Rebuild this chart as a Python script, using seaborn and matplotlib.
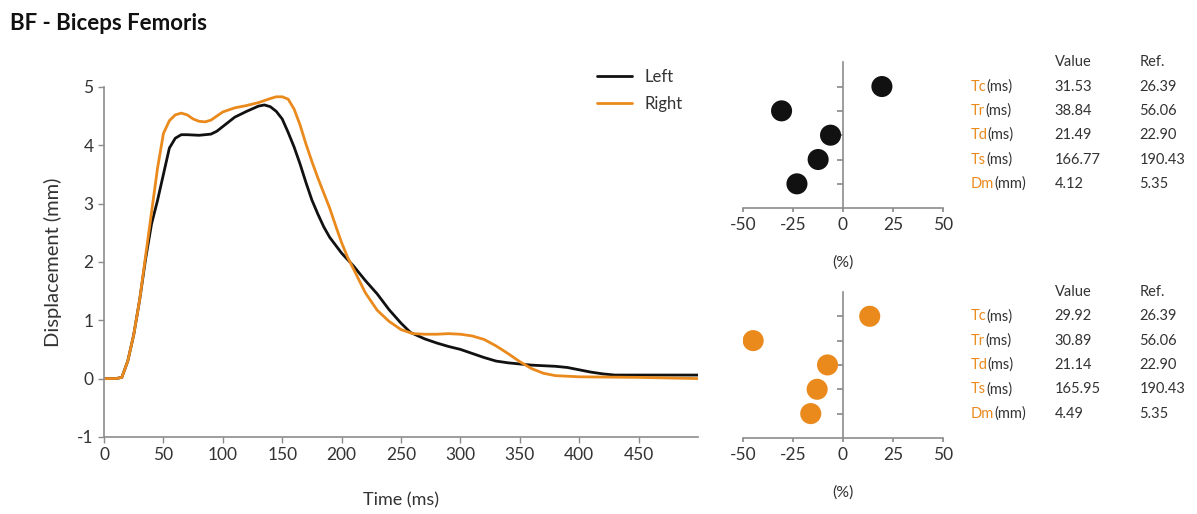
import pandas as pd
import matplotlib.pyplot as plt
import matplotlib.transforms as mtransforms
import seaborn as sns

# Curvas de desplazamiento
time_left = [0, 10, 15, 20, 25, 30, 35, 40, 45, 50, 55, 60, 65, 70, 80, 90, 95, 100, 110, 120, 130, 135,
             140, 145, 150, 155, 160, 165, 170, 175, 180, 185, 190, 200, 210, 220, 230, 240, 250, 258,
             270, 280, 290, 300, 310, 320, 330, 340, 350, 360, 370, 380, 390, 400, 410, 420, 430, 450, 500]
disp_left = [0, 0, 0.02, 0.3, 0.75, 1.35, 2.05, 2.65, 3.05, 3.5, 3.95, 4.12, 4.18, 4.18, 4.17, 4.19, 4.24,
             4.32, 4.48, 4.58, 4.67, 4.69, 4.66, 4.58, 4.45, 4.22, 3.97, 3.68, 3.36, 3.06, 2.82, 2.6,
             2.42, 2.15, 1.93, 1.68, 1.45, 1.18, 0.95, 0.79, 0.68, 0.61, 0.55, 0.5, 0.43, 0.36, 0.3,
             0.27, 0.25, 0.23, 0.22, 0.21, 0.19, 0.15, 0.11, 0.08, 0.06, 0.06, 0.06]
time_right = [0, 10, 15, 20, 25, 30, 35, 40, 45, 50, 55, 60, 65, 70, 75, 80, 85, 90, 100, 110, 120, 130,
              140, 145, 150, 155, 160, 165, 170, 175, 180, 185, 190, 195, 200, 205, 210, 220, 230, 240,
              250, 260, 270, 280, 290, 300, 310, 320, 330, 340, 350, 360, 370, 380, 400, 450, 500]
disp_right = [0, 0, 0.02, 0.3, 0.75, 1.35, 2.1, 2.85, 3.6, 4.2, 4.42, 4.52, 4.55, 4.52, 4.45, 4.41, 4.4,
              4.43, 4.57, 4.64, 4.68, 4.73, 4.8, 4.83, 4.83, 4.79, 4.62, 4.35, 4.02, 3.72, 3.44, 3.18,
              2.92, 2.62, 2.33, 2.08, 1.88, 1.47, 1.17, 0.98, 0.84, 0.77, 0.76, 0.76, 0.77, 0.76, 0.73,
              0.67, 0.56, 0.43, 0.29, 0.17, 0.09, 0.05, 0.03, 0.02, 0.0]

# Parámetros
params = ['Tc', 'Tr', 'Td', 'Ts', 'Dm']
units = ['(ms)', '(ms)', '(ms)', '(ms)', '(mm)']
ref_vals = ['26.39', '56.06', '22.90', '190.43', '5.35']
left_vals = ['31.53', '38.84', '21.49', '166.77', '4.12']
right_vals = ['29.92', '30.89', '21.14', '165.95', '4.49']
left_pct = [19.5, -30.7, -6.2, -12.4, -23.0]
right_pct = [13.4, -44.9, -7.7, -12.9, -16.1]

BLACK = '#111111'
ORANGE = '#ea8a1c'
GREY = '#8c8c8c'
TXT = '#333333'

sns.set_theme(style='white')
plt.rcParams['font.family'] = ['Lato', 'DejaVu Sans']
plt.rcParams['axes.unicode_minus'] = False

fig = plt.figure(figsize=(11.97, 5.14), dpi=100)
fig.text(0.008, 0.955, 'BF - Biceps Femoris', fontsize=16, fontweight='bold', color='#111111', va='center')

# Gráfico principal
curves = pd.concat([
    pd.DataFrame({'Time': time_left, 'Disp': disp_left, 'Side': 'Left'}),
    pd.DataFrame({'Time': time_right, 'Disp': disp_right, 'Side': 'Right'}),
])
ax = fig.add_axes([0.0869, 0.150, 0.4962, 0.681])
sns.lineplot(data=curves, x='Time', y='Disp', hue='Side', palette={'Left': BLACK, 'Right': ORANGE},
             linewidth=2, ax=ax)
ax.set_xlim(0, 500)
ax.set_ylim(-1, 5)
ax.set_xticks(range(0, 451, 50))
ax.set_yticks(range(-1, 6))
ax.set_xlabel('Time (ms)', fontsize=13, color=TXT, labelpad=21)
ax.set_ylabel('Displacement (mm)', fontsize=14.5, color=TXT, labelpad=11)
ax.tick_params(labelsize=12.5, colors=TXT, length=4, width=1, color=GREY, bottom=True, left=True)
for s in ['top', 'right']:
    ax.spines[s].set_visible(False)
for s in ['left', 'bottom']:
    ax.spines[s].set_color(GREY)
    ax.spines[s].set_linewidth(1.2)
leg = ax.legend(loc='upper right', bbox_to_anchor=(1.0, 1.095), frameon=False, fontsize=12,
                handlelength=2.1, labelspacing=0.7, title=None)
for t in leg.get_texts():
    t.set_color(TXT)


def dot_panel(rect, pct, vals, color):
    a = fig.add_axes(rect)
    df = pd.DataFrame({'pct': pct, 'pos': [5, 4, 3, 2, 1]})
    sns.scatterplot(data=df, x='pct', y='pos', color=color, s=230, edgecolor='none', ax=a, zorder=3)
    a.set_xlim(-50, 50)
    a.set_ylim(0, 6)
    a.set_xticks([-50, -25, 0, 25, 50])
    a.set_yticks([1, 2, 3, 4, 5])
    a.set_yticklabels([])
    a.set_xlabel('(%)', fontsize=11.5, color=TXT, labelpad=16)
    a.set_ylabel('')
    a.spines['left'].set_position(('data', 0))
    for s in ['top', 'right']:
        a.spines[s].set_visible(False)
    for s in ['left', 'bottom']:
        a.spines[s].set_color(GREY)
        a.spines[s].set_linewidth(1.2)
    a.tick_params(axis='x', labelsize=12.5, colors=TXT, length=3, color=GREY, bottom=True)
    a.tick_params(axis='y', length=4, color=GREY, left=True)
    # Tabla de valores
    tr = mtransforms.blended_transform_factory(fig.transFigure, a.transData)
    fig.text(0.881, 6.0, 'Value', transform=tr, fontsize=10.5, color=TXT, va='center')
    fig.text(0.952, 6.0, 'Ref.', transform=tr, fontsize=10.5, color=TXT, va='center')
    for i, p in enumerate(params):
        y = 5 - i
        lab = fig.text(0.811, y, p, transform=tr, fontsize=10.5, color=ORANGE, va='center')
        a.annotate(units[i], xy=(1, 0), xycoords=lab, fontsize=10.5, color=TXT, va='bottom', ha='left')
        fig.text(0.881, y, vals[i], transform=tr, fontsize=10.5, color=TXT, va='center')
        fig.text(0.952, y, ref_vals[i], transform=tr, fontsize=10.5, color=TXT, va='center')
    return a


dot_panel([0.6207, 0.595, 0.167, 0.284], left_pct, left_vals, BLACK)
dot_panel([0.6207, 0.148, 0.167, 0.284], right_pct, right_vals, ORANGE)

fig.savefig('out.png', dpi=100)
